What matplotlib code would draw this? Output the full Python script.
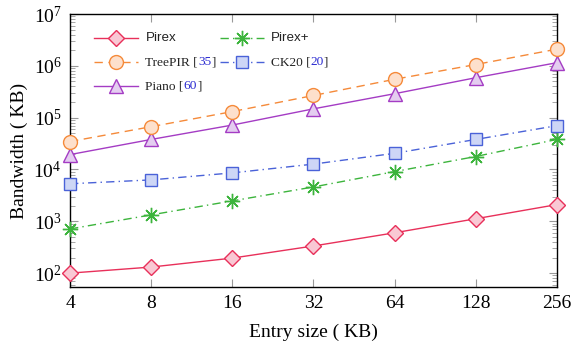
import matplotlib
matplotlib.use("Agg")
import matplotlib.pyplot as plt
from matplotlib.ticker import LogLocator, NullFormatter, FixedLocator, FixedFormatter

# data
entry_kb = [4, 8, 16, 32, 64, 128, 256]
x_labels = ["4", "8", "16", "32", "64", "128", "256"]
pirex = [100, 131, 195, 334, 600, 1120, 2100]
pirex_plus = [713, 1330, 2480, 4600, 9100, 17800, 38000]
treepir = [34600, 67000, 131000, 268000, 550000, 1060000, 2100000]
ck20 = [5300, 6300, 8600, 12700, 20500, 38000, 70000]
piano = [19400, 38000, 72000, 148000, 290000, 590000, 1150000]

serif = "Liberation Serif"
sans = "Liberation Sans"
cite_blue = "#2a2ad0"

fig = plt.figure(figsize=(5.74, 3.51), dpi=100)
ax = fig.add_axes([0.122, 0.182, 0.848, 0.778])

styles = {
    "pirex": dict(color="#e8305a", ls="-", marker="D", ms=8.5, mfc="#f9c8d4", mec="#e8305a"),
    "pirex_plus": dict(color="#3cb43c", ls=(0, (6, 3, 1, 3)), marker=(8, 2, 0), ms=11, mfc="#3cb43c", mec="#3cb43c"),
    "treepir": dict(color="#f58a3a", ls=(0, (6, 4)), marker="o", ms=10, mfc="#fde0cc", mec="#f58a3a"),
    "ck20": dict(color="#4a62d8", ls=(0, (6, 3, 1, 3)), marker="s", ms=8, mfc="#cdd6f6", mec="#4a62d8"),
    "piano": dict(color="#a43cc4", ls="-", marker="^", ms=10, mfc="#e4cdf0", mec="#a43cc4"),
}
series = {"pirex": pirex, "pirex_plus": pirex_plus, "treepir": treepir, "ck20": ck20, "piano": piano}

for key in ["pirex", "pirex_plus", "ck20", "piano", "treepir"]:
    st = styles[key]
    ax.plot(entry_kb, series[key], color=st["color"], ls=st["ls"], lw=1.0,
            marker=st["marker"], ms=st["ms"], mfc=st["mfc"], mec=st["mec"], mew=1.0,
            clip_on=False, zorder=3)

ax.set_xscale("log", base=2)
ax.set_yscale("log")
ax.set_xlim(4, 256)
ax.set_ylim(10 ** 1.73, 1e7)

ax.xaxis.set_major_locator(FixedLocator(entry_kb))
ax.xaxis.set_major_formatter(FixedFormatter(x_labels))
ax.xaxis.set_minor_locator(FixedLocator([]))
ax.yaxis.set_major_locator(LogLocator(base=10, numticks=10))
ax.yaxis.set_minor_locator(LogLocator(base=10, subs=range(2, 10), numticks=20))
ax.yaxis.set_minor_formatter(NullFormatter())

ax.tick_params(which="major", direction="in", length=6, width=0.8, color="#999999",
               top=True, right=True, labelsize=14, pad=6)
ax.tick_params(which="minor", direction="in", length=3.5, width=0.6, color="#999999",
               left=True, right=True)
for lab in ax.get_xticklabels() + ax.get_yticklabels():
    lab.set_fontfamily(serif)
for sp in ax.spines.values():
    sp.set_linewidth(1.0)

ax.set_xlabel("Entry size ( KB)", fontsize=14, family=serif, labelpad=8)
ax.set_ylabel("Bandwidth ( KB)", fontsize=14, family=serif, labelpad=4)

# hand-built legend so the citation numbers can be blue
def legend_entry(key, x, y, parts, family):
    st = styles[key]
    ax.plot([x, x + 0.09], [y, y], transform=ax.transAxes, color=st["color"], ls=st["ls"], lw=1.0,
            clip_on=False, zorder=4)
    ax.plot([x + 0.045], [y], transform=ax.transAxes, marker=st["marker"], ms=st["ms"],
            mfc=st["mfc"], mec=st["mec"], mew=1.0, clip_on=False, zorder=5)
    t = ax.text(x + 0.105, y, parts[0][0], transform=ax.transAxes, fontsize=9.6, family=family,
                color=parts[0][1], va="center", ha="left")
    for s, c in parts[1:]:
        t = ax.annotate(s, xycoords=t, xy=(1, 0), va="bottom", ha="left", fontsize=9.6,
                        family=serif, color=c)

row_y = [0.912, 0.824, 0.736]
col_x = [0.05, 0.308]
legend_entry("pirex", col_x[0], row_y[0], [("Pirex", "#222222")], sans)
legend_entry("pirex_plus", col_x[1], row_y[0], [("Pirex+", "#222222")], sans)
legend_entry("treepir", col_x[0], row_y[1], [("TreePIR [", "#222222"), ("35", cite_blue), ("]", "#222222")], serif)
legend_entry("ck20", col_x[1], row_y[1], [("CK20 [", "#222222"), ("20", cite_blue), ("]", "#222222")], serif)
legend_entry("piano", col_x[0], row_y[2], [("Piano [", "#222222"), ("60", cite_blue), ("]", "#222222")], serif)

fig.savefig("out.png", dpi=100)
